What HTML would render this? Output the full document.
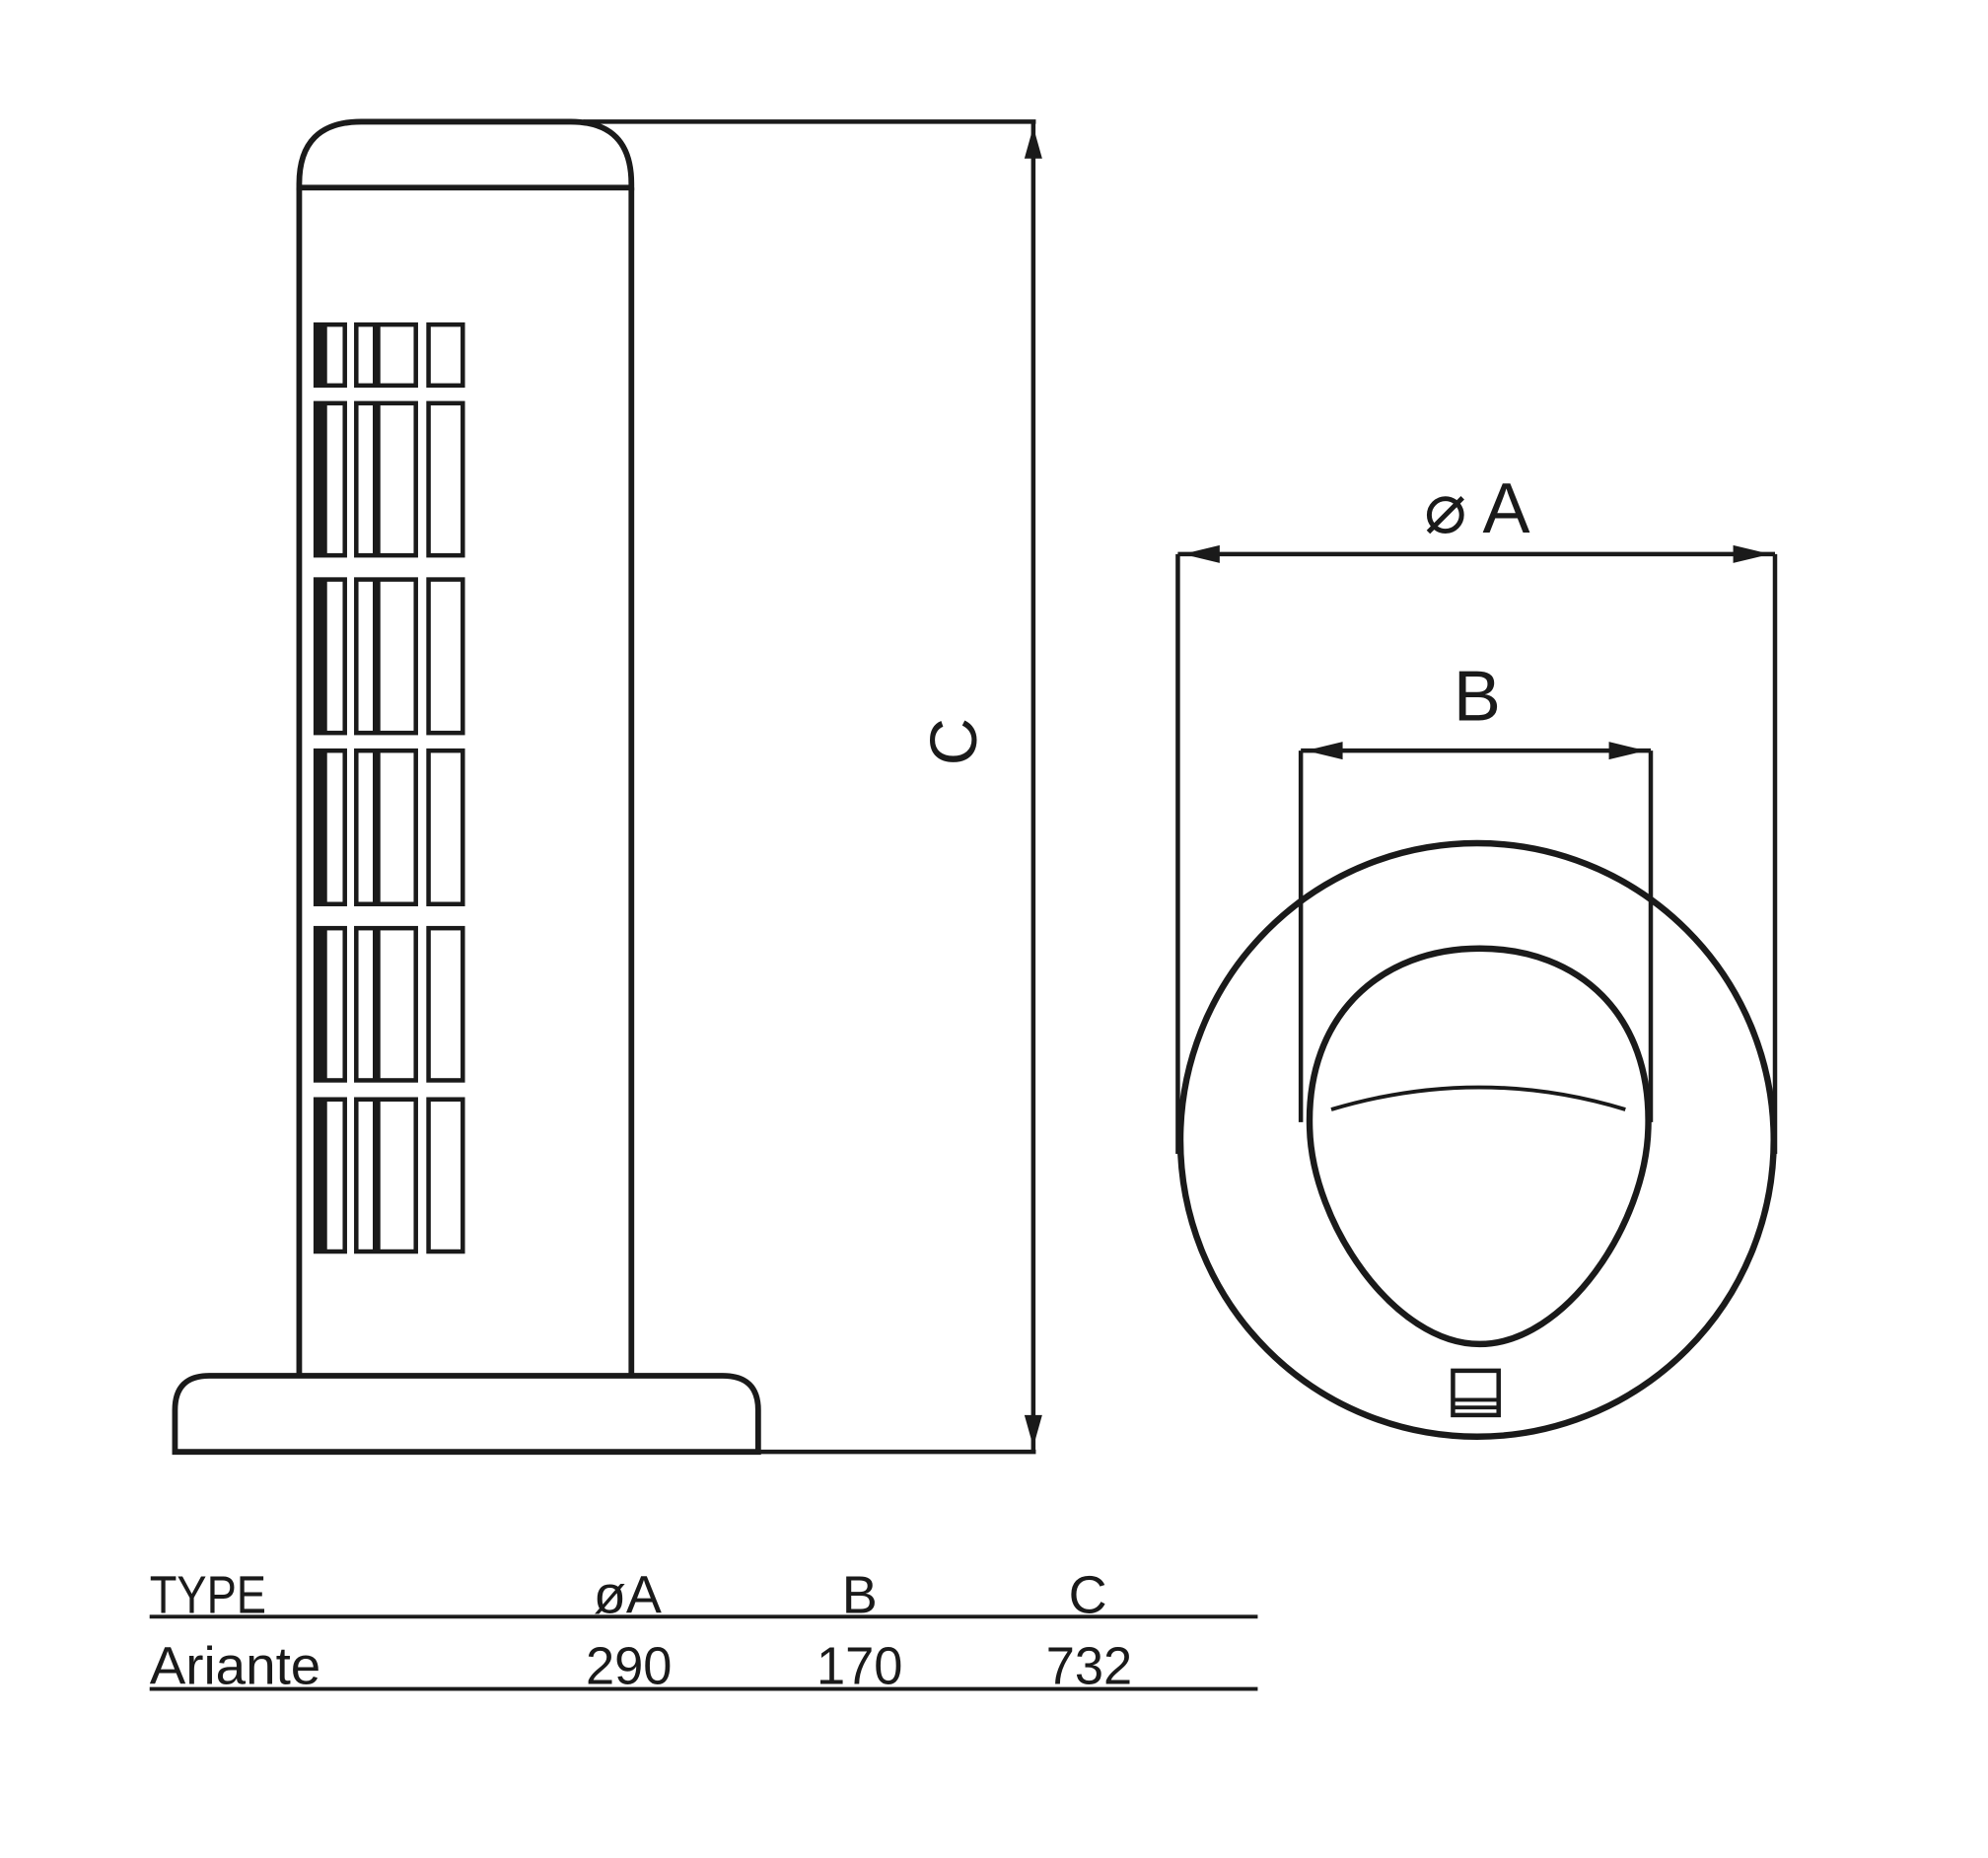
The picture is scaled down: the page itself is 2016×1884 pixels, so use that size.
<!DOCTYPE html>
<html><head><meta charset="utf-8"><style>
html,body{margin:0;padding:0;background:#fff;}
svg{display:block;}
text{font-family:"Liberation Sans",sans-serif;fill:#1a1a1a;}
</style></head><body>
<svg width="2016" height="1884" viewBox="0 0 1568 1465.3" preserveAspectRatio="none" xmlns="http://www.w3.org/2000/svg">
<g fill="none" stroke="#1a1a1a" stroke-width="4.5">
<path d="M236,148 L236,145 Q236,96 285,96 L450,96 Q498,96 498,145 L498,148 Z"/>
<path d="M236,148 L236,1085 M498,148 L498,1085"/>
<path d="M138,1145 L138,1112 Q138,1085 165,1085 L570,1085 Q598,1085 598,1112 L598,1145 Z"/>
</g>
<g fill="none" stroke="#1a1a1a" stroke-width="3.5">
<rect x="249" y="256" width="23" height="48"/><rect x="281" y="256" width="47" height="48"/><rect x="338" y="256" width="27" height="48"/>
<rect x="249" y="318" width="23" height="120"/><rect x="281" y="318" width="47" height="120"/><rect x="338" y="318" width="27" height="120"/>
<rect x="249" y="457" width="23" height="121"/><rect x="281" y="457" width="47" height="121"/><rect x="338" y="457" width="27" height="121"/>
<rect x="249" y="592" width="23" height="121"/><rect x="281" y="592" width="47" height="121"/><rect x="338" y="592" width="27" height="121"/>
<rect x="249" y="732" width="23" height="120"/><rect x="281" y="732" width="47" height="120"/><rect x="338" y="732" width="27" height="120"/>
<rect x="249" y="867" width="23" height="120"/><rect x="281" y="867" width="47" height="120"/><rect x="338" y="867" width="27" height="120"/>
</g>
<g fill="#1a1a1a">
<rect x="249" y="256" width="9" height="48"/><rect x="294" y="256" width="6" height="48"/>
<rect x="249" y="318" width="9" height="120"/><rect x="294" y="318" width="6" height="120"/>
<rect x="249" y="457" width="9" height="121"/><rect x="294" y="457" width="6" height="121"/>
<rect x="249" y="592" width="9" height="121"/><rect x="294" y="592" width="6" height="121"/>
<rect x="249" y="732" width="9" height="120"/><rect x="294" y="732" width="6" height="120"/>
<rect x="249" y="867" width="9" height="120"/><rect x="294" y="867" width="6" height="120"/>
</g>
<g fill="none" stroke="#1a1a1a" stroke-width="3.5">
<path d="M460,96 L817,96 M815,96 L815,1145 M598,1145 L817,1145"/>
<path d="M929,437 L1400,437 M929,437 L929,910 M1400,437 L1400,910"/>
<path d="M1026,592 L1302,592 M1026,592 L1026,885 M1302,592 L1302,885"/>
<circle cx="1165" cy="899" r="234" stroke-width="5"/>
<path d="M1167,1060 C1100,1060 1035,965 1033,890 C1030,800 1090,748 1167,748 C1245,748 1303,800 1300,890 C1298,965 1235,1060 1167,1060Z" stroke-width="5"/>
<path d="M1050,875 Q1167,840 1282,875" stroke-width="3"/>
<rect x="1146" y="1081" width="36" height="35" stroke-width="3.5"/>
<path d="M1146,1104 L1182,1104 M1146,1110 L1182,1110" stroke-width="3"/>
<path d="M118,1275 L992,1275 M118,1332 L992,1332" stroke-width="3"/>
</g>
<g fill="#1a1a1a">
<polygon points="815,100 808,125 822,125"/>
<polygon points="815,1141 808,1116 822,1116"/>
<polygon points="933,437 962,430 962,444"/>
<polygon points="1396,437 1367,430 1367,444"/>
<polygon points="1030,592 1059,585 1059,599"/>
<polygon points="1298,592 1269,585 1269,599"/>
</g>
<text x="752" y="603" font-size="52" text-anchor="middle" transform="rotate(-90 752 585)">C</text>
<text x="1165" y="420" font-size="56" text-anchor="middle">⌀ A</text>
<text x="1165" y="568" font-size="56" text-anchor="middle">B</text>
<g font-size="42">
<text x="118" y="1272" textLength="92" lengthAdjust="spacingAndGlyphs">TYPE</text>
<text x="495" y="1272" text-anchor="middle">øA</text>
<text x="678" y="1272" text-anchor="middle">B</text>
<text x="858" y="1272" text-anchor="middle">C</text>
<text x="118" y="1328" textLength="135" lengthAdjust="spacingAndGlyphs">Ariante</text>
<text x="462" y="1328" textLength="68" lengthAdjust="spacingAndGlyphs">290</text>
<text x="644" y="1328" textLength="68" lengthAdjust="spacingAndGlyphs">170</text>
<text x="825" y="1328" textLength="68" lengthAdjust="spacingAndGlyphs">732</text>
</g>
</svg>
</body></html>
